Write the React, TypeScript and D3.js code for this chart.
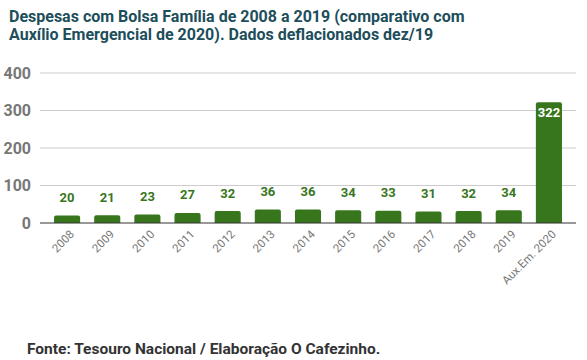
import React from "react";
import * as d3 from "d3";

const categories = ["2008","2009","2010","2011","2012","2013","2014","2015","2016","2017","2018","2019","Aux.Em. 2020"];
const values = [20,21,23,27,32,36,36,34,33,31,32,34,322];
const yTicks = [0,100,200,300,400];
const titleLines = ["Despesas com Bolsa Família de 2008 a 2019 (comparativo com","Auxílio Emergencial de 2020). Dados deflacionados dez/19"];
const footer = "Fonte: Tesouro Nacional / Elaboração O Cafezinho.";

export default function App() {
  const W = 587, H = 360;
  const x = d3.scaleBand<string>().domain(categories).range([47, 569]).paddingInner(0.35).paddingOuter(0.175);
  const y = d3.scaleLinear().domain([0, 400]).range([223, 73]);
  const green = "#38761d";
  const font = "Roboto, 'Noto Sans', sans-serif";
  return (
    <svg width={W} height={H} style={{ position: "absolute", left: 0, top: 0, background: "#fff" }} fontFamily={font}>
      {titleLines.map((t, i) => (
        <text key={i} x={9} y={21.5 + i * 18.5} fontSize={16} fontWeight="bold" fill="#1d4e5b">{t}</text>
      ))}
      {yTicks.map((t) => (
        <g key={t}>
          {t > 0 && <line x1={40} x2={576} y1={y(t)} y2={y(t)} stroke="#cccccc" strokeWidth={1} />}
          <text x={31} y={y(t)} dy="0.36em" textAnchor="end" fontSize={16} fontWeight="bold" fill="#777777">{t}</text>
        </g>
      ))}
      {categories.map((c, i) => {
        const v = values[i];
        const bx = x(c)!;
        const top = y(v);
        const inside = v > 200;
        return (
          <g key={c}>
            <path
              d={`M${bx},${y(0)} V${top + 2} Q${bx},${top} ${bx + 2},${top} H${bx + x.bandwidth() - 2} Q${bx + x.bandwidth()},${top} ${bx + x.bandwidth()},${top + 2} V${y(0)} Z`}
              fill={green}
            />
            <text
              x={bx + x.bandwidth() / 2}
              y={inside ? top + 15 : top - 13.5}
              textAnchor="middle"
              fontSize={13}
              fontWeight="bold"
              fill={inside ? "#ffffff" : green}
            >{v}</text>
            <text
              transform={`translate(${bx + x.bandwidth() / 2 + 5},${232}) rotate(-45)`}
              textAnchor="end"
              dy="0.35em"
              fontSize={11.5}
              fill="#777777"
            >{c}</text>
          </g>
        );
      })}
      <line x1={40} x2={576} y1={y(0)} y2={y(0)} stroke="#333333" strokeWidth={1.2} />
      <text x={27} y={354} fontSize={15.5} fontWeight="bold" fill="#333333">{footer}</text>
    </svg>
  );
}
